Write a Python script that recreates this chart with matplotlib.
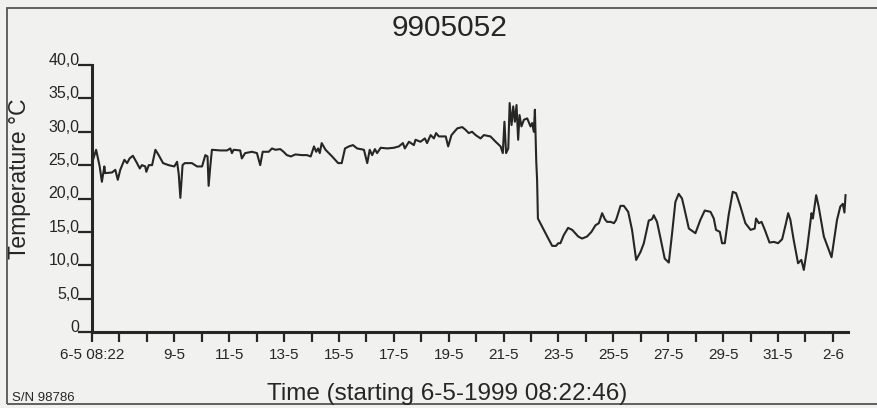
import numpy as np
import matplotlib.pyplot as plt
from matplotlib.patches import Rectangle

# days since 6-5-1999 08:22:46, temperature in degC
dni = [0.0, 0.15, 0.28, 0.36, 0.45, 0.48, 0.73, 0.85, 0.94, 1.03, 1.18, 1.28, 1.37, 1.49,
       1.64, 1.74, 1.82, 1.94, 1.98, 2.07, 2.19, 2.31, 2.43, 2.59, 2.79, 3.00, 3.10, 3.16,
       3.22, 3.30, 3.38, 3.64, 3.83, 4.01, 4.13, 4.21, 4.25, 4.31, 4.37, 4.67, 4.92, 5.04,
       5.10, 5.16, 5.40, 5.46, 5.58, 5.83, 6.01, 6.13, 6.22, 6.44, 6.56, 6.68, 6.86, 6.98,
       7.10, 7.25, 7.41, 7.65, 7.83, 7.97, 8.09, 8.17, 8.24, 8.30, 8.37, 8.51, 8.75, 8.97,
       9.10, 9.22, 9.36, 9.51, 9.66, 9.91, 10.03, 10.12, 10.21, 10.31, 10.39, 10.52, 10.76,
       11.00, 11.18, 11.33, 11.40, 11.55, 11.73, 11.79, 11.97, 12.13, 12.21, 12.34, 12.46,
       12.54, 12.64, 12.89, 12.98, 13.10, 13.31, 13.49, 13.61, 13.73, 13.85, 13.98, 14.16,
       14.28, 14.52, 14.71, 14.89, 14.97, 15.03, 15.09, 15.17, 15.22, 15.29, 15.35, 15.41,
       15.47, 15.53, 15.58, 15.65, 15.74, 15.86, 15.98, 16.04, 16.10, 16.14, 16.19, 16.22,
       16.25, 16.40, 16.59, 16.77, 16.91, 16.99, 17.07, 17.19, 17.35, 17.50, 17.72, 17.86,
       18.04, 18.20, 18.35, 18.47, 18.59, 18.69, 18.77, 18.90, 19.02, 19.10, 19.26, 19.38,
       19.54, 19.68, 19.83, 19.99, 20.11, 20.29, 20.41, 20.47, 20.59, 20.72, 20.87, 21.02,
       21.14, 21.26, 21.38, 21.50, 21.57, 21.75, 21.99, 22.17, 22.33, 22.54, 22.66, 22.74,
       22.88, 22.96, 23.06, 23.20, 23.35, 23.47, 23.63, 23.81, 24.00, 24.15, 24.20, 24.30,
       24.40, 24.52, 24.69, 24.85, 25.00, 25.15, 25.29, 25.37, 25.45, 25.57, 25.73, 25.85,
       25.94, 26.06, 26.22, 26.27, 26.39, 26.48, 26.67, 26.95, 27.15, 27.27, 27.36, 27.42,
       27.46]
temp = [25.3, 27.3, 24.8, 22.5, 24.8, 23.8, 23.9, 24.3, 22.8, 24.3, 25.8, 25.3, 26.0, 26.4,
        25.3, 24.5, 25.0, 24.8, 24.0, 25.0, 25.0, 27.3, 26.5, 25.3, 25.0, 24.8, 25.5, 23.7,
        20.1, 25.0, 25.3, 25.3, 24.8, 24.8, 26.5, 26.3, 21.9, 24.8, 27.3, 27.2, 27.2, 27.5,
        26.8, 27.3, 27.2, 26.0, 26.8, 27.0, 26.8, 25.0, 27.0, 27.0, 27.5, 27.3, 27.4, 27.0,
        26.5, 26.3, 26.6, 26.5, 26.5, 26.3, 27.8, 27.0, 27.5, 26.8, 28.3, 27.3, 26.3, 25.3,
        25.3, 27.5, 27.8, 28.0, 27.5, 27.3, 25.3, 27.3, 26.5, 27.4, 26.8, 27.6, 27.5,
        27.6, 27.8, 28.3, 27.5, 28.5, 28.0, 28.8, 28.5, 29.0, 28.3, 29.5, 29.0,
        29.8, 29.3, 29.3, 27.8, 29.5, 30.5, 30.7, 30.3, 29.8, 30.0, 29.5, 29.0,
        29.5, 29.3, 28.5, 27.8, 26.8, 31.5, 26.8, 27.5, 34.3, 31.0, 33.8, 31.5,
        34.0, 28.8, 32.5, 30.8, 31.8, 32.0, 30.8, 31.3, 30.0, 33.3, 25.5, 22.8,
        17.0, 15.8, 14.3, 12.9, 12.9, 13.3, 13.3, 14.5, 15.6, 15.3, 14.3, 14.0,
        14.3, 15.0, 16.0, 16.3, 17.8, 16.9, 16.5, 16.5, 16.3, 16.8, 18.9, 18.9,
        18.0, 15.3, 10.8, 12.0, 13.3, 16.7, 16.9, 17.5, 16.5, 14.0, 11.0, 10.4,
        14.8, 19.5, 20.7, 20.0, 18.8, 15.5, 14.8, 16.8, 18.2, 18.0, 17.0, 15.3,
        15.0, 13.3, 13.3, 17.5, 21.0, 20.8, 18.8, 16.3, 15.3, 15.5, 17.0, 16.3,
        16.5, 15.3, 13.4, 13.5, 13.3, 13.9, 16.3, 17.8, 16.8, 13.8, 10.3, 10.8,
        9.3, 12.5, 17.8, 17.0, 20.5, 18.8, 14.3, 11.2, 16.8, 18.8, 19.2, 17.9,
        20.5]

dni_ticki = list(range(0, 28))
podpisy_dni = {0: '6-5 08:22', 3: '9-5', 5: '11-5', 7: '13-5', 9: '15-5', 11: '17-5',
               13: '19-5', 15: '21-5', 17: '23-5', 19: '25-5', 21: '27-5', 23: '29-5',
               25: '31-5', 27: '2-6'}
y_ticki = [0, 5, 10, 15, 20, 25, 30, 35, 40]
y_etykiety = ['0', '5,0', '10,0', '15,0', '20,0', '25,0', '30,0', '35,0', '40,0']

plt.rcParams['font.family'] = ['Liberation Sans', 'DejaVu Sans']
tlo = '#f1f1ef'
czarny = '#262626'

fig = plt.figure(figsize=(8.77, 4.08), dpi=100, facecolor=tlo)
ax = fig.add_axes([92 / 877, 1 - 332 / 408, (848 - 92) / 877, (332 - 65) / 408])
ax.set_facecolor(tlo)

ax.plot(dni, temp, color=czarny, lw=1.5)

ax.set_xlim(0, 27.55)
ax.set_ylim(0, 40)
for s in ['top', 'right']:
    ax.spines[s].set_visible(False)
for s in ['left', 'bottom']:
    ax.spines[s].set_linewidth(2.2)
    ax.spines[s].set_color(czarny)

# os x: ticki co dobe, podpisy co dwie doby
ax.set_xticks(dni_ticki)
ax.set_xticklabels([podpisy_dni.get(d, '') for d in dni_ticki])
ax.tick_params(axis='x', direction='out', length=7, width=1.6, color=czarny,
               pad=4.5, labelsize=11, labelcolor=czarny)

ax.set_yticks(y_ticki)
ax.set_yticklabels(y_etykiety)
ax.tick_params(axis='y', direction='out', length=10, width=1.6, color=czarny,
               pad=-1, labelsize=11.5, labelcolor=czarny)
for t in ax.get_yticklabels():
    t.set_verticalalignment('baseline')

fig.text(450 / 877, 1 - 28 / 408, '9905052', ha='center', va='center',
         fontsize=21.5, color=czarny)
fig.text(20 / 877, 1 - 179 / 408, 'Temperature °C', rotation=90, ha='center',
         va='center', fontsize=16.5, color=czarny)
fig.text(447 / 877, 1 - 394 / 408, 'Time (starting 6-5-1999 08:22:46)', ha='center',
         va='center', fontsize=17.5, color=czarny)
fig.text(12 / 877, 1 - 398 / 408, 'S/N 98786', ha='left', va='center',
         fontsize=9.5, color=czarny)

# ramka dookola wykresu
fig.patches.append(Rectangle((7 / 877, 1 - 404 / 408), 1.0, (404 - 8) / 408,
                             transform=fig.transFigure, fill=False,
                             edgecolor='#555555', lw=1.3))

fig.savefig('out.png', dpi=100, facecolor=tlo)
